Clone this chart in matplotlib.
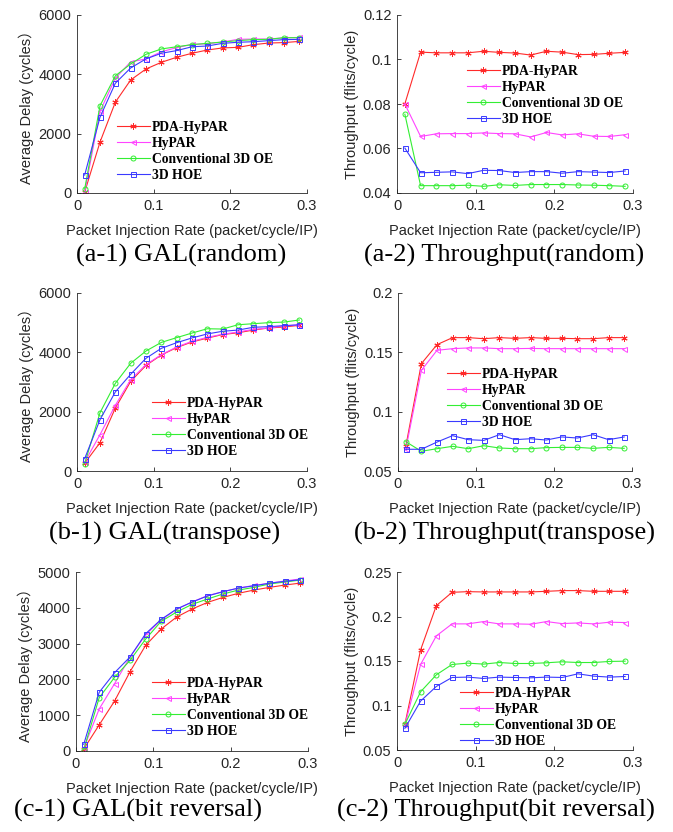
import numpy as np
import matplotlib
matplotlib.use("Agg")
import matplotlib.pyplot as plt

plt.rcParams['font.family'] = ['Liberation Sans', 'Noto Sans CJK SC', 'DejaVu Sans']

x = np.arange(0.01, 0.30, 0.02)
names = ["PDA-HyPAR", "HyPAR", "Conventional 3D OE", "3D HOE"]

# (a) random
delay_rand_pda = [30, 1715, 3060, 3810, 4180, 4405, 4575, 4710, 4820, 4890, 4910, 5000, 5055, 5070, 5110]
delay_rand_hypar = [20, 2750, 3870, 4420, 4520, 4760, 4900, 5010, 5030, 5090, 5180, 5190, 5190, 5230, 5245]
delay_rand_oe = [135, 2940, 3950, 4350, 4675, 4855, 4930, 5000, 5045, 5090, 5135, 5170, 5180, 5235, 5235]
delay_rand_hoe = [605, 2555, 3700, 4215, 4520, 4710, 4800, 4930, 4955, 5045, 5080, 5100, 5135, 5170, 5180]

thr_rand_pda = [0.0801, 0.1033, 0.1030, 0.1030, 0.1030, 0.1037, 0.1032, 0.1029, 0.1020, 0.1037, 0.1033, 0.1022, 0.1023, 0.1028, 0.1032]
thr_rand_hypar = [0.0800, 0.0654, 0.0666, 0.0667, 0.0667, 0.0670, 0.0667, 0.0666, 0.0652, 0.0672, 0.0661, 0.0666, 0.0655, 0.0654, 0.0662]
thr_rand_oe = [0.0754, 0.0433, 0.0433, 0.0433, 0.0435, 0.0430, 0.0437, 0.0434, 0.0438, 0.0438, 0.0438, 0.0436, 0.0435, 0.0433, 0.0430]
thr_rand_hoe = [0.0602, 0.0491, 0.0493, 0.0495, 0.0487, 0.0502, 0.0501, 0.0492, 0.0496, 0.0496, 0.0489, 0.0496, 0.0494, 0.0492, 0.0499]

# (b) transpose
delay_tr_pda = [260, 955, 2120, 3020, 3560, 3910, 4160, 4350, 4480, 4600, 4660, 4750, 4820, 4855, 4910]
delay_tr_hypar = [300, 1225, 2215, 3080, 3585, 3920, 4180, 4370, 4505, 4610, 4685, 4775, 4820, 4890, 4920]
delay_tr_oe = [250, 1965, 2955, 3630, 4045, 4335, 4495, 4650, 4795, 4785, 4930, 4965, 5000, 5020, 5090]
delay_tr_hoe = [415, 1730, 2665, 3260, 3800, 4135, 4325, 4485, 4620, 4710, 4750, 4845, 4865, 4900, 4930]

thr_tr_pda = [0.0708, 0.1405, 0.1565, 0.1624, 0.1624, 0.1615, 0.1624, 0.1618, 0.1624, 0.1618, 0.1618, 0.1615, 0.1615, 0.1624, 0.1624]
thr_tr_hypar = [0.0683, 0.1348, 0.1517, 0.1531, 0.1537, 0.1537, 0.1531, 0.1531, 0.1533, 0.1531, 0.1531, 0.1531, 0.1531, 0.1531, 0.1531]
thr_tr_oe = [0.0747, 0.0666, 0.0688, 0.0708, 0.0688, 0.0713, 0.0694, 0.0688, 0.0688, 0.0697, 0.0699, 0.0699, 0.0691, 0.0699, 0.0691]
thr_tr_hoe = [0.0683, 0.0683, 0.0744, 0.0798, 0.0764, 0.0758, 0.0806, 0.0764, 0.0772, 0.0761, 0.0787, 0.0778, 0.0806, 0.0764, 0.0787]

# (c) bit reversal
delay_br_pda = [55, 730, 1400, 2220, 2950, 3405, 3740, 3965, 4150, 4290, 4405, 4495, 4570, 4635, 4690]
delay_br_hypar = [75, 1175, 1885, 2630, 3245, 3655, 3955, 4160, 4340, 4450, 4550, 4625, 4685, 4750, 4805]
delay_br_oe = [35, 1490, 2060, 2535, 3125, 3620, 3880, 4095, 4245, 4385, 4495, 4570, 4665, 4720, 4775]
delay_br_hoe = [185, 1640, 2190, 2630, 3275, 3675, 3965, 4160, 4330, 4450, 4550, 4615, 4685, 4740, 4785]

thr_br_pda = [0.0788, 0.1625, 0.2122, 0.2272, 0.2279, 0.2276, 0.2276, 0.2276, 0.2276, 0.2283, 0.2291, 0.2291, 0.2283, 0.2283, 0.2283]
thr_br_hypar = [0.0780, 0.1461, 0.1782, 0.1917, 0.1917, 0.1943, 0.1917, 0.1917, 0.1913, 0.1943, 0.1920, 0.1928, 0.1917, 0.1936, 0.1932]
thr_br_oe = [0.0788, 0.1154, 0.1345, 0.1461, 0.1476, 0.1465, 0.1483, 0.1472, 0.1472, 0.1480, 0.1491, 0.1483, 0.1483, 0.1495, 0.1498]
thr_br_hoe = [0.0743, 0.1050, 0.1214, 0.1315, 0.1319, 0.1304, 0.1319, 0.1315, 0.1311, 0.1319, 0.1315, 0.1356, 0.1330, 0.1319, 0.1326]

captions = ["(a-1) GAL(random)", "(a-2) Throughput(random)",
            "(b-1) GAL(transpose)", "(b-2) Throughput(transpose)",
            "(c-1) GAL(bit reversal)", "(c-2) Throughput(bit reversal)"]
caption_pos = [(181, 255), (504, 255), (165, 533), (505, 533), (138, 810), (496, 810)]

colors = ["#ff2a2a", "#ff44ff", "#33ee33", "#3a3aff"]
markers = [(6, 2, 0), "<", "o", "s"]

W, H = 673, 832
fig = plt.figure(figsize=(W / 100, H / 100), dpi=100)

def px_axes(l, t, r, b):
    return fig.add_axes([l / W, 1 - b / H, (r - l) / W, (b - t) / H])

panels = [
    # box (l, t, r, b), series, yticks, yticklabels, ylabel, legend anchor (px)
    ((77, 15, 307, 193), [delay_rand_pda, delay_rand_hypar, delay_rand_oe, delay_rand_hoe],
     [0, 2000, 4000, 6000], None, "Average Delay (cycles）", (117, 121)),
    ((397, 15, 633, 193), [thr_rand_pda, thr_rand_hypar, thr_rand_oe, thr_rand_hoe],
     [0.04, 0.06, 0.08, 0.1, 0.12], ["0.04", "0.06", "0.08", "0.1", "0.12"],
     "Throughput (flits/cycle)", (467, 65)),
    ((77, 293, 307, 471), [delay_tr_pda, delay_tr_hypar, delay_tr_oe, delay_tr_hoe],
     [0, 2000, 4000, 6000], None, "Average Delay (cycles）", (152, 397)),
    ((398, 293, 632, 471), [thr_tr_pda, thr_tr_hypar, thr_tr_oe, thr_tr_hoe],
     [0.05, 0.1, 0.15, 0.2], ["0.05", "0.1", "0.15", "0.2"],
     "Throughput (flits/cycle)", (447, 368)),
    ((76, 572, 308, 751), [delay_br_pda, delay_br_hypar, delay_br_oe, delay_br_hoe],
     [0, 1000, 2000, 3000, 4000, 5000], None, "Average Delay (cycles）", (152, 677)),
    ((397, 572, 633, 750), [thr_br_pda, thr_br_hypar, thr_br_oe, thr_br_hoe],
     [0.05, 0.1, 0.15, 0.2, 0.25], ["0.05", "0.1", "0.15", "0.2", "0.25"],
     "Throughput (flits/cycle)", (460, 687)),
]

tc = "#262626"
for i, (box, series, yt, ytl, ylab, leg) in enumerate(panels):
    ax = px_axes(*box)
    for s, c, m, n in zip(series, colors, markers, names):
        star = not isinstance(m, str)
        ax.plot(x, s, color=c, lw=0.8, marker=m, ms=4.5 if star else 3.6,
                mfc=c if star else "none", mec=c, mew=0.7, label=n)
    ax.set_xlim(0, 0.3)
    ax.set_ylim(yt[0], yt[-1])
    ax.set_xticks([0, 0.1, 0.2, 0.3])
    ax.set_xticklabels(["0", "0.1", "0.2", "0.3"])
    ax.set_yticks(yt)
    if ytl is not None:
        ax.set_yticklabels(ytl)
    for sp in ["top", "right"]:
        ax.spines[sp].set_visible(False)
    for sp in ["left", "bottom"]:
        ax.spines[sp].set_color(tc)
        ax.spines[sp].set_linewidth(0.6)
    ax.tick_params(direction="in", length=3, width=0.6, colors=tc, labelsize=10.5, pad=4)
    ax.set_xlabel("Packet Injection Rate (packet/cycle/IP)", fontsize=10.5, color=tc, labelpad=8)
    ax.set_ylabel(ylab, fontsize=10.5, color=tc, labelpad=3)
    ax.legend(loc="upper left", bbox_to_anchor=(leg[0] / W, 1 - leg[1] / H),
              bbox_transform=fig.transFigure, frameon=False,
              prop={"family": "Liberation Serif", "weight": "bold", "size": 9.8},
              handlelength=2.4, handletextpad=0.15, labelspacing=0.22,
              borderpad=0, borderaxespad=0)
    cx, cy = caption_pos[i]
    fig.text(cx / W, 1 - cy / H, captions[i], ha="center", va="center",
             fontsize=19, family="Liberation Serif")

fig.savefig("out.png", dpi=100)
